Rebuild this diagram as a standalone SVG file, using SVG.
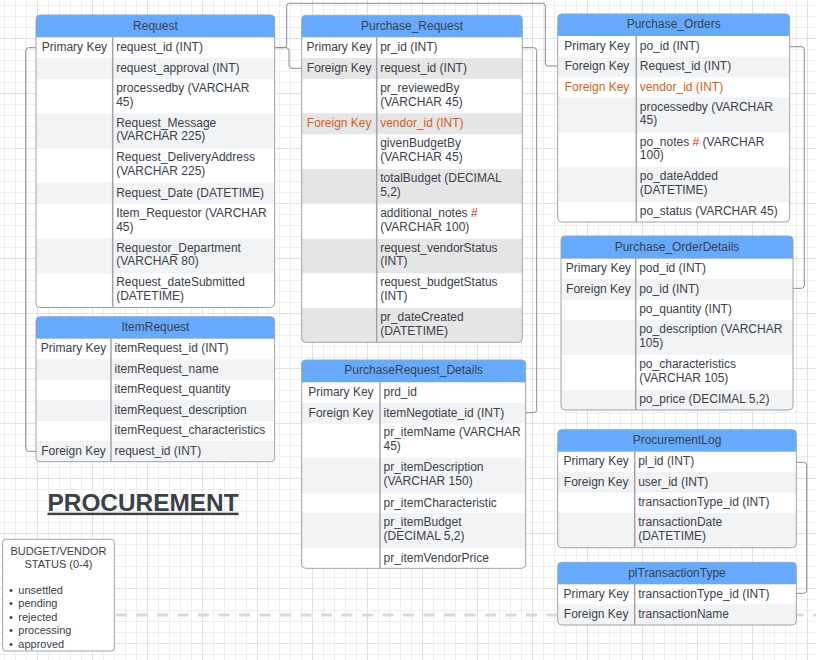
<svg xmlns="http://www.w3.org/2000/svg" width="816" height="660" viewBox="0 0 816 660">
<style>
text{font-family:"Liberation Sans",Arial,sans-serif;font-size:12px;fill:#3a414a}
.m{text-anchor:middle}
.o{fill:#d4601c}
.r{fill:#e81d1d}
.hdr{fill:#66aaff}
.g1{fill:#f2f3f5}
.g2{fill:#e6e6e6}
.bd{fill:none;stroke:#9ea3a8;stroke-width:1}
.dv{stroke:#a0a4a8;stroke-width:1.5}
.cn{fill:none;stroke:#8a8a8a;stroke-width:1}
.lg{font-size:11px}
</style>
<defs>
<pattern id="grid" patternUnits="userSpaceOnUse" x="37" y="38" width="55" height="55">
<path d="M11.5 0V55M22.5 0V55M33.5 0V55M44.5 0V55M0 11.5H55M0 22.5H55M0 33.5H55M0 44.5H55" stroke="#eeeeee" fill="none"/>
<path d="M0.5 0V55M0 0.5H55" stroke="#e0e0e0" fill="none"/>
</pattern>
<clipPath id="c1"><rect x="36" y="15" width="238.7" height="292.5" rx="4"/></clipPath>
<clipPath id="c2"><rect x="301.7" y="15.3" width="220.6" height="327" rx="4"/></clipPath>
<clipPath id="c3"><rect x="557.7" y="14" width="232" height="208" rx="4"/></clipPath>
<clipPath id="c4"><rect x="561" y="236" width="232" height="174" rx="4"/></clipPath>
<clipPath id="c5"><rect x="36" y="316.7" width="238.7" height="145" rx="4"/></clipPath>
<clipPath id="c6"><rect x="301.7" y="360" width="224" height="208.3" rx="4"/></clipPath>
<clipPath id="c7"><rect x="557.7" y="429.7" width="238.6" height="118" rx="4"/></clipPath>
<clipPath id="c8"><rect x="557.7" y="562.3" width="238.6" height="62.7" rx="4"/></clipPath>
</defs>
<rect width="816" height="660" fill="#ffffff"/>
<rect width="816" height="660" fill="url(#grid)"/>
<line x1="116" y1="615" x2="816" y2="615" stroke="#d9d9d9" stroke-width="3" stroke-dasharray="11 9.5"/>

<g id="connectors">
<path class="cn" d="M274.7,47.7 H283.7 Q286.7,47.7 286.7,44.7 V6.3 Q286.7,3.3 289.7,3.3 H542.3 Q545.3,3.3 545.3,6.3 V63 Q545.3,66 548.3,66 H557.7"/>
<path class="cn" d="M274.7,47.7 H286 Q289,47.7 289,50.7 V65.3 Q289,68.3 292,68.3 H301.7"/>
<path class="cn" d="M36,47.7 H28.7 Q25.7,47.7 25.7,50.7 V448.3 Q25.7,451.3 28.7,451.3 H36"/>
<path class="cn" d="M522.3,47.7 H533.7 Q536.7,47.7 536.7,50.7 V409.7 Q536.7,412.7 533.7,412.7 H525.7"/>
<path class="cn" d="M789.7,46.7 H801.3 Q804.3,46.7 804.3,49.7 V285.3 Q804.3,288.3 801.3,288.3 H793"/>
<path class="cn" d="M796.3,462.3 H803.7 Q806.7,462.3 806.7,465.3 V590.3 Q806.7,593.3 803.7,593.3 H796.3"/>
</g>

<g id="request">
<g clip-path="url(#c1)">
<rect x="36" y="15" width="238.7" height="292.5" fill="#fff"/>
<rect class="hdr" x="36" y="15" width="238.7" height="22.3"/>
<rect class="g1" x="36" y="58" width="238.7" height="21"/>
<rect class="g1" x="36" y="113.3" width="238.7" height="35.4"/>
<rect class="g1" x="36" y="182.7" width="238.7" height="21.3"/>
<rect class="g1" x="36" y="238.7" width="238.7" height="34.6"/>
</g>
<line class="dv" x1="112.7" y1="37.3" x2="112.7" y2="307.5"/>
<rect class="bd" x="36" y="15" width="238.7" height="292.5" rx="4"/>
<text class="m" x="155.4" y="29.5">Request</text>
<text class="m" x="74.4" y="51">Primary Key</text>
<text x="116.2" y="51">request_id (INT)</text>
<text x="116.2" y="71.8">request_approval (INT)</text>
<text x="116.2" y="91.7">processedby (VARCHAR</text>
<text x="116.2" y="105.5">45)</text>
<text x="116.2" y="126.5">Request_Message</text>
<text x="116.2" y="140.3">(VARCHAR 225)</text>
<text x="116.2" y="161.2">Request_DeliveryAddress</text>
<text x="116.2" y="175">(VARCHAR 225)</text>
<text x="116.2" y="196.7">Request_Date (DATETIME)</text>
<text x="116.2" y="216.9">Item_Requestor (VARCHAR</text>
<text x="116.2" y="230.7">45)</text>
<text x="116.2" y="251.5">Requestor_Department</text>
<text x="116.2" y="265.3">(VARCHAR 80)</text>
<text x="116.2" y="285.8">Request_dateSubmitted</text>
<text x="116.2" y="299.6">(DATETIME)</text>
</g>

<g id="purchase_request">
<g clip-path="url(#c2)">
<rect x="301.7" y="15.3" width="220.6" height="327" fill="#fff"/>
<rect class="hdr" x="301.7" y="15.3" width="220.6" height="22"/>
<rect class="g2" x="301.7" y="58" width="220.6" height="21"/>
<rect class="g2" x="301.7" y="113.3" width="220.6" height="21"/>
<rect class="g2" x="301.7" y="169" width="220.6" height="34.7"/>
<rect class="g2" x="301.7" y="238.7" width="220.6" height="34.6"/>
<rect class="g2" x="301.7" y="308" width="220.6" height="34.3"/>
</g>
<line class="dv" x1="376.7" y1="37.3" x2="376.7" y2="342.3"/>
<rect class="bd" x="301.7" y="15.3" width="220.6" height="327" rx="4"/>
<text class="m" x="412" y="29.6">Purchase_Request</text>
<text class="m" x="339.2" y="51">Primary Key</text>
<text x="380.2" y="51">pr_id (INT)</text>
<text class="m" x="339.2" y="71.8">Foreign Key</text>
<text x="380.2" y="71.8">request_id (INT)</text>
<text x="380.2" y="91.7">pr_reviewedBy</text>
<text x="380.2" y="105.5">(VARCHAR 45)</text>
<text class="m o" x="339.2" y="127.1">Foreign Key</text>
<text class="o" x="380.2" y="127.1">vendor_id (INT)</text>
<text x="380.2" y="147.2">givenBudgetBy</text>
<text x="380.2" y="161">(VARCHAR 45)</text>
<text x="380.2" y="181.9">totalBudget (DECIMAL</text>
<text x="380.2" y="195.7">5,2)</text>
<text x="380.2" y="216.7">additional_notes <tspan class="r">#</tspan></text>
<text x="380.2" y="230.5">(VARCHAR 100)</text>
<text x="380.2" y="251.5">request_vendorStatus</text>
<text x="380.2" y="265.3">(INT)</text>
<text x="380.2" y="286.2">request_budgetStatus</text>
<text x="380.2" y="300">(INT)</text>
<text x="380.2" y="320.7">pr_dateCreated</text>
<text x="380.2" y="334.5">(DATETIME)</text>
</g>

<g id="purchase_orders">
<g clip-path="url(#c3)">
<rect x="557.7" y="14" width="232" height="208" fill="#fff"/>
<rect class="hdr" x="557.7" y="14" width="232" height="22"/>
<rect class="g1" x="557.7" y="56.7" width="232" height="20.6"/>
<rect class="g1" x="557.7" y="97.3" width="232" height="35.4"/>
<rect class="g1" x="557.7" y="167.3" width="232" height="34.7"/>
</g>
<line class="dv" x1="636.3" y1="36" x2="636.3" y2="222"/>
<rect class="bd" x="557.7" y="14" width="232" height="208" rx="4"/>
<text class="m" x="673.7" y="28.2">Purchase_Orders</text>
<text class="m" x="597" y="49.7">Primary Key</text>
<text x="639.8" y="49.7">po_id (INT)</text>
<text class="m" x="597" y="70.3">Foreign Key</text>
<text x="639.8" y="70.3">Request_id (INT)</text>
<text class="m o" x="597" y="90.6">Foreign Key</text>
<text class="o" x="639.8" y="90.6">vendor_id (INT)</text>
<text x="639.8" y="110.5">processedby (VARCHAR</text>
<text x="639.8" y="124.3">45)</text>
<text x="639.8" y="145.5">po_notes <tspan class="r">#</tspan> (VARCHAR</text>
<text x="639.8" y="159.3">100)</text>
<text x="639.8" y="180.2">po_dateAdded</text>
<text x="639.8" y="194">(DATETIME)</text>
<text x="639.8" y="215.3">po_status (VARCHAR 45)</text>
</g>

<g id="purchase_orderdetails">
<g clip-path="url(#c4)">
<rect x="561" y="236" width="232" height="174" fill="#fff"/>
<rect class="hdr" x="561" y="236" width="232" height="22.7"/>
<rect class="g1" x="561" y="279" width="232" height="20.7"/>
<rect class="g1" x="561" y="320" width="232" height="35"/>
<rect class="g1" x="561" y="390" width="232" height="20"/>
</g>
<line class="dv" x1="635.7" y1="258.7" x2="635.7" y2="410"/>
<rect class="bd" x="561" y="236" width="232" height="174" rx="4"/>
<text class="m" x="677" y="250.6">Purchase_OrderDetails</text>
<text class="m" x="598.4" y="272.2">Primary Key</text>
<text x="639.2" y="272.2">pod_id (INT)</text>
<text class="m" x="598.4" y="292.7">Foreign Key</text>
<text x="639.2" y="292.7">po_id (INT)</text>
<text x="639.2" y="313.2">po_quantity (INT)</text>
<text x="639.2" y="333">po_description (VARCHAR</text>
<text x="639.2" y="346.8">105)</text>
<text x="639.2" y="368">po_characteristics</text>
<text x="639.2" y="381.8">(VARCHAR 105)</text>
<text x="639.2" y="403.3">po_price (DECIMAL 5,2)</text>
</g>

<g id="itemrequest">
<g clip-path="url(#c5)">
<rect x="36" y="316.7" width="238.7" height="145" fill="#fff"/>
<rect class="hdr" x="36" y="316.7" width="238.7" height="22"/>
<rect class="g1" x="36" y="359.3" width="238.7" height="20.7"/>
<rect class="g1" x="36" y="400" width="238.7" height="21"/>
<rect class="g1" x="36" y="441" width="238.7" height="20.7"/>
</g>
<line class="dv" x1="111" y1="338.7" x2="111" y2="461.7"/>
<rect class="bd" x="36" y="316.7" width="238.7" height="145" rx="4"/>
<text class="m" x="155.4" y="331">ItemRequest</text>
<text class="m" x="73.5" y="352.3">Primary Key</text>
<text x="114.5" y="352.3">itemRequest_id (INT)</text>
<text x="114.5" y="373">itemRequest_name</text>
<text x="114.5" y="393.3">itemRequest_quantity</text>
<text x="114.5" y="413.8">itemRequest_description</text>
<text x="114.5" y="434.3">itemRequest_characteristics</text>
<text class="m" x="73.5" y="454.7">Foreign Key</text>
<text x="114.5" y="454.7">request_id (INT)</text>
</g>

<g id="purchaserequest_details">
<g clip-path="url(#c6)">
<rect x="301.7" y="360" width="224" height="208.3" fill="#fff"/>
<rect class="hdr" x="301.7" y="360" width="224" height="22.3"/>
<rect class="g1" x="301.7" y="403" width="224" height="20.7"/>
<rect class="g1" x="301.7" y="457.7" width="224" height="35.6"/>
<rect class="g1" x="301.7" y="513" width="224" height="35.3"/>
</g>
<line class="dv" x1="380" y1="382.3" x2="380" y2="568.3"/>
<rect class="bd" x="301.7" y="360" width="224" height="208.3" rx="4"/>
<text class="m" x="413.7" y="374.4">PurchaseRequest_Details</text>
<text class="m" x="340.9" y="396">Primary Key</text>
<text x="383.5" y="396">prd_id</text>
<text class="m" x="340.9" y="416.7">Foreign Key</text>
<text x="383.5" y="416.7">itemNegotiate_id (INT)</text>
<text x="383.5" y="436.2">pr_itemName (VARCHAR</text>
<text x="383.5" y="450">45)</text>
<text x="383.5" y="471">pr_itemDescription</text>
<text x="383.5" y="484.8">(VARCHAR 150)</text>
<text x="383.5" y="506.5">pr_itemCharacteristic</text>
<text x="383.5" y="526.2">pr_itemBudget</text>
<text x="383.5" y="540">(DECIMAL 5,2)</text>
<text x="383.5" y="561.6">pr_itemVendorPrice</text>
</g>

<g id="procurementlog">
<g clip-path="url(#c7)">
<rect x="557.7" y="429.7" width="238.6" height="118" fill="#fff"/>
<rect class="hdr" x="557.7" y="429.7" width="238.6" height="22"/>
<rect class="g1" x="557.7" y="472" width="238.6" height="20.7"/>
<rect class="g1" x="557.7" y="513" width="238.6" height="34.7"/>
</g>
<line class="dv" x1="634.7" y1="451.7" x2="634.7" y2="547.7"/>
<rect class="bd" x="557.7" y="429.7" width="238.6" height="118" rx="4"/>
<text class="m" x="677" y="444">ProcurementLog</text>
<text class="m" x="596.2" y="465.2">Primary Key</text>
<text x="638.2" y="465.2">pl_id (INT)</text>
<text class="m" x="596.2" y="485.7">Foreign Key</text>
<text x="638.2" y="485.7">user_id (INT)</text>
<text x="638.2" y="506.2">transactionType_id (INT)</text>
<text x="638.2" y="525.9">transactionDate</text>
<text x="638.2" y="539.7">(DATETIME)</text>
</g>

<g id="pltransactiontype">
<g clip-path="url(#c8)">
<rect x="557.7" y="562.3" width="238.6" height="62.7" fill="#fff"/>
<rect class="hdr" x="557.7" y="562.3" width="238.6" height="22"/>
<rect class="g1" x="557.7" y="604.3" width="238.6" height="20.7"/>
</g>
<line class="dv" x1="634.7" y1="584.3" x2="634.7" y2="625"/>
<rect class="bd" x="557.7" y="562.3" width="238.6" height="62.7" rx="4"/>
<text class="m" x="677" y="576.6">plTransactionType</text>
<text class="m" x="596.2" y="597.6">Primary Key</text>
<text x="638.2" y="597.6">transactionType_id (INT)</text>
<text class="m" x="596.2" y="618">Foreign Key</text>
<text x="638.2" y="618">transactionName</text>
</g>

<g id="title">
<text x="47.5" y="510.7" style="font-size:24.4px;font-weight:bold;text-decoration:underline">PROCUREMENT</text>
</g>

<g id="legend">
<rect x="2.7" y="539.3" width="111.6" height="111.7" rx="3" fill="#fff" stroke="#9ea3a8" stroke-width="1"/>
<text class="lg m" x="58.5" y="555">BUDGET/VENDOR</text>
<text class="lg m" x="58.5" y="568.4">STATUS (0-4)</text>
<text class="lg" x="9" y="593.5">•</text><text class="lg" x="18.3" y="593.5">unsettled</text>
<text class="lg" x="9" y="607">•</text><text class="lg" x="18.3" y="607">pending</text>
<text class="lg" x="9" y="620.5">•</text><text class="lg" x="18.3" y="620.5">rejected</text>
<text class="lg" x="9" y="634">•</text><text class="lg" x="18.3" y="634">processing</text>
<text class="lg" x="9" y="647.5">•</text><text class="lg" x="18.3" y="647.5">approved</text>
</g>
</svg>
